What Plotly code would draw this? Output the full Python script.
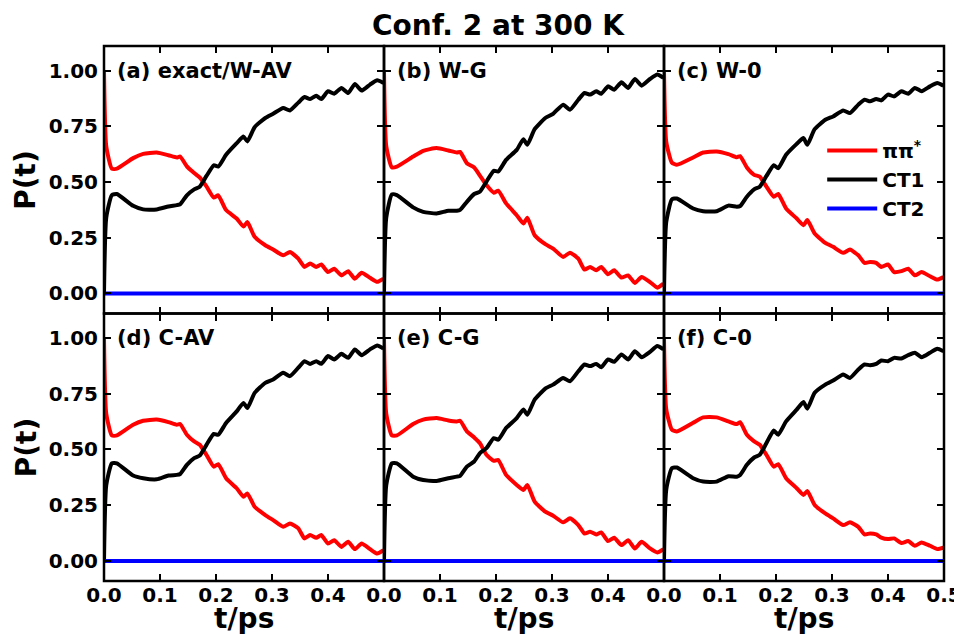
import plotly.graph_objects as go
from plotly.subplots import make_subplots

# time grid (ps)
t = [0.000, 0.004, 0.014, 0.023, 0.052, 0.070, 0.094, 0.115, 0.130, 0.136,
     0.148, 0.161, 0.171, 0.183, 0.196, 0.204, 0.218, 0.237, 0.249, 0.256,
     0.269, 0.288, 0.302, 0.320, 0.332, 0.347, 0.358, 0.368, 0.379, 0.388,
     0.400, 0.411, 0.424, 0.436, 0.448, 0.460, 0.475, 0.488, 0.499]

# (a) exact/W-AV
pp_a = [1.00, 0.66, 0.560, 0.560, 0.607, 0.626, 0.632, 0.620, 0.610, 0.614,
        0.570, 0.540, 0.520, 0.480, 0.430, 0.440, 0.374, 0.336, 0.300, 0.320,
        0.254, 0.216, 0.197, 0.171, 0.186, 0.156, 0.119, 0.134, 0.119, 0.130,
        0.096, 0.111, 0.081, 0.100, 0.066, 0.093, 0.070, 0.052, 0.066]
ct1_a = [0.00, 0.34, 0.441, 0.446, 0.393, 0.377, 0.377, 0.390, 0.396, 0.400,
         0.440, 0.467, 0.479, 0.527, 0.575, 0.569, 0.622, 0.674, 0.704, 0.682,
         0.746, 0.787, 0.806, 0.832, 0.821, 0.856, 0.881, 0.872, 0.887, 0.872,
         0.907, 0.896, 0.922, 0.899, 0.940, 0.910, 0.937, 0.956, 0.944]

# (b) W-G
pp_b = [1.00, 0.66, 0.566, 0.569, 0.614, 0.640, 0.652, 0.641, 0.632, 0.635,
        0.584, 0.565, 0.530, 0.486, 0.452, 0.461, 0.404, 0.351, 0.314, 0.340,
        0.261, 0.221, 0.201, 0.164, 0.183, 0.156, 0.107, 0.119, 0.104, 0.119,
        0.086, 0.104, 0.071, 0.081, 0.047, 0.074, 0.051, 0.026, 0.044]
ct1_b = [0.00, 0.34, 0.444, 0.441, 0.386, 0.366, 0.359, 0.371, 0.371, 0.375,
         0.411, 0.446, 0.456, 0.502, 0.550, 0.547, 0.599, 0.644, 0.692, 0.667,
         0.737, 0.787, 0.806, 0.847, 0.824, 0.869, 0.899, 0.892, 0.907, 0.896,
         0.929, 0.914, 0.947, 0.922, 0.962, 0.932, 0.962, 0.982, 0.967]

# (c) W-0
pp_c = [1.00, 0.68, 0.587, 0.577, 0.610, 0.632, 0.637, 0.625, 0.611, 0.616,
        0.565, 0.532, 0.524, 0.479, 0.434, 0.446, 0.381, 0.336, 0.306, 0.329,
        0.269, 0.227, 0.209, 0.182, 0.197, 0.171, 0.137, 0.141, 0.137, 0.119,
        0.130, 0.096, 0.100, 0.111, 0.081, 0.096, 0.077, 0.062, 0.074]
ct1_c = [0.00, 0.32, 0.422, 0.426, 0.381, 0.369, 0.369, 0.394, 0.389, 0.392,
         0.434, 0.467, 0.479, 0.527, 0.575, 0.562, 0.622, 0.671, 0.697, 0.667,
         0.737, 0.779, 0.794, 0.821, 0.809, 0.847, 0.869, 0.862, 0.872, 0.866,
         0.892, 0.884, 0.907, 0.896, 0.922, 0.907, 0.929, 0.944, 0.932]

# (d) C-AV
pp_d = [1.00, 0.66, 0.563, 0.563, 0.611, 0.629, 0.634, 0.623, 0.611, 0.614,
        0.566, 0.536, 0.521, 0.476, 0.423, 0.434, 0.371, 0.326, 0.288, 0.303,
        0.243, 0.206, 0.183, 0.153, 0.168, 0.146, 0.101, 0.116, 0.104, 0.116,
        0.078, 0.093, 0.063, 0.086, 0.053, 0.078, 0.053, 0.033, 0.048]
ct1_d = [0.00, 0.34, 0.438, 0.438, 0.383, 0.371, 0.366, 0.383, 0.386, 0.390,
         0.431, 0.461, 0.473, 0.521, 0.570, 0.566, 0.619, 0.671, 0.709, 0.686,
         0.754, 0.799, 0.814, 0.844, 0.829, 0.867, 0.896, 0.884, 0.896, 0.884,
         0.919, 0.904, 0.929, 0.911, 0.949, 0.923, 0.949, 0.967, 0.953]

# (e) C-G
pp_e = [1.00, 0.66, 0.563, 0.563, 0.614, 0.634, 0.641, 0.630, 0.626, 0.629,
        0.581, 0.554, 0.529, 0.476, 0.449, 0.453, 0.386, 0.341, 0.318, 0.341,
        0.266, 0.221, 0.203, 0.173, 0.191, 0.161, 0.123, 0.131, 0.119, 0.128,
        0.089, 0.104, 0.071, 0.093, 0.056, 0.086, 0.056, 0.038, 0.053]
ct1_e = [0.00, 0.34, 0.438, 0.438, 0.378, 0.363, 0.359, 0.371, 0.378, 0.382,
         0.423, 0.446, 0.483, 0.506, 0.551, 0.544, 0.596, 0.641, 0.679, 0.656,
         0.724, 0.773, 0.791, 0.821, 0.806, 0.851, 0.881, 0.874, 0.884, 0.869,
         0.904, 0.893, 0.926, 0.904, 0.941, 0.914, 0.938, 0.964, 0.949]

# (f) C-0
pp_f = [1.00, 0.68, 0.589, 0.581, 0.620, 0.644, 0.644, 0.626, 0.614, 0.622,
        0.566, 0.536, 0.521, 0.476, 0.423, 0.434, 0.371, 0.326, 0.296, 0.314,
        0.251, 0.213, 0.191, 0.161, 0.173, 0.153, 0.119, 0.123, 0.119, 0.105,
        0.098, 0.101, 0.080, 0.089, 0.068, 0.083, 0.068, 0.053, 0.059]
ct1_f = [0.00, 0.32, 0.416, 0.419, 0.371, 0.356, 0.356, 0.380, 0.378, 0.385,
         0.431, 0.464, 0.476, 0.529, 0.585, 0.566, 0.626, 0.679, 0.713, 0.683,
         0.754, 0.791, 0.809, 0.836, 0.821, 0.859, 0.881, 0.878, 0.884, 0.899,
         0.896, 0.911, 0.908, 0.923, 0.934, 0.914, 0.934, 0.952, 0.941]

ct2 = [0.0] * len(t)

labels = ["(a) exact/W-AV", "(b) W-G", "(c) W-0", "(d) C-AV", "(e) C-G", "(f) C-0"]
pp_all = [pp_a, pp_b, pp_c, pp_d, pp_e, pp_f]
ct1_all = [ct1_a, ct1_b, ct1_c, ct1_d, ct1_e, ct1_f]

yticks = [0.0, 0.25, 0.5, 0.75, 1.0]
xticks = [0.0, 0.1, 0.2, 0.3, 0.4, 0.5]

for arr in pp_all + ct1_all:
    assert len(arr) == len(t)

FONT = "DejaVu Sans"
bold = lambda s: dict(family=FONT, size=s, color="black", weight="bold")

fig = make_subplots(rows=2, cols=3, shared_xaxes=True, shared_yaxes=True,
                    horizontal_spacing=0, vertical_spacing=0)

for i in range(6):
    r, c = i // 3 + 1, i % 3 + 1
    first = (i == 0)
    fig.add_trace(go.Scatter(x=t, y=pp_all[i], mode="lines", name="ππ<sup>*</sup>",
                             line=dict(color="#ff0000", width=4, shape="spline", smoothing=0.5),
                             showlegend=first, legendgroup="pp"), row=r, col=c)
    fig.add_trace(go.Scatter(x=t, y=ct1_all[i], mode="lines", name="CT1",
                             line=dict(color="black", width=4, shape="spline", smoothing=0.5),
                             showlegend=first, legendgroup="ct1"), row=r, col=c)
    fig.add_trace(go.Scatter(x=t, y=ct2, mode="lines", name="CT2",
                             line=dict(color="#0000ff", width=4),
                             showlegend=first, legendgroup="ct2"), row=r, col=c)
    sfx = "" if i == 0 else str(i + 1)
    fig.add_annotation(text=labels[i], xref=f"x{sfx} domain", yref=f"y{sfx}",
                       x=0.04, y=1.0, xanchor="left", yanchor="middle",
                       showarrow=False, font=bold(21))
    # panel frame
    fig.add_shape(type="rect", xref=f"x{sfx} domain", yref=f"y{sfx} domain",
                  x0=0, x1=1, y0=0, y1=1, line=dict(color="black", width=2.5),
                  layer="above")

axis_style = dict(showline=False, mirror="ticks", automargin=False,
                  ticks="inside", ticklen=7, tickwidth=2, tickcolor="black",
                  showgrid=False, zeroline=False, tickfont=bold(20))

fig.update_xaxes(range=[0, 0.5], tickvals=xticks, tickformat=".1f",
                 ticklabelstandoff=0, **axis_style)
fig.update_yaxes(range=[-0.09, 1.11], tickvals=yticks, tickformat=".2f",
                 ticklabelstandoff=5, **axis_style)

for c in (1, 2):
    fig.update_xaxes(ticktext=["0.0", "0.1", "0.2", "0.3", "0.4", ""], row=2, col=c)

# axis titles
for c in range(3):
    fig.add_annotation(text="t/ps", xref="paper", yref="paper",
                       x=(c + 0.5) / 3, y=0, yshift=-37, xanchor="center",
                       yanchor="middle", showarrow=False, font=bold(28))
for r in range(2):
    fig.add_annotation(text="P(t)", xref="paper", yref="paper",
                       x=0, xshift=-78, y=0.75 - 0.5 * r, xanchor="center",
                       yanchor="middle", textangle=-90, showarrow=False,
                       font=bold(28))

fig.add_annotation(text="Conf. 2 at 300 K", xref="paper", yref="paper",
                   x=0.470, y=1, yshift=21, xanchor="center", yanchor="middle",
                   showarrow=False, font=bold(28))

# the page puts the figure 8 px in from the top-left corner
fig.update_layout(
    width=962, height=634,
    margin=dict(l=96, r=26, t=38, b=61),
    paper_bgcolor="white", plot_bgcolor="white",
    legend=dict(x=0.855, y=0.841, xanchor="left", yanchor="top",
                bgcolor="rgba(0,0,0,0)", font=bold(20), itemwidth=50,
                tracegroupgap=0),
    font=dict(family=FONT, color="black"),
)

fig.write_html("out.html")
